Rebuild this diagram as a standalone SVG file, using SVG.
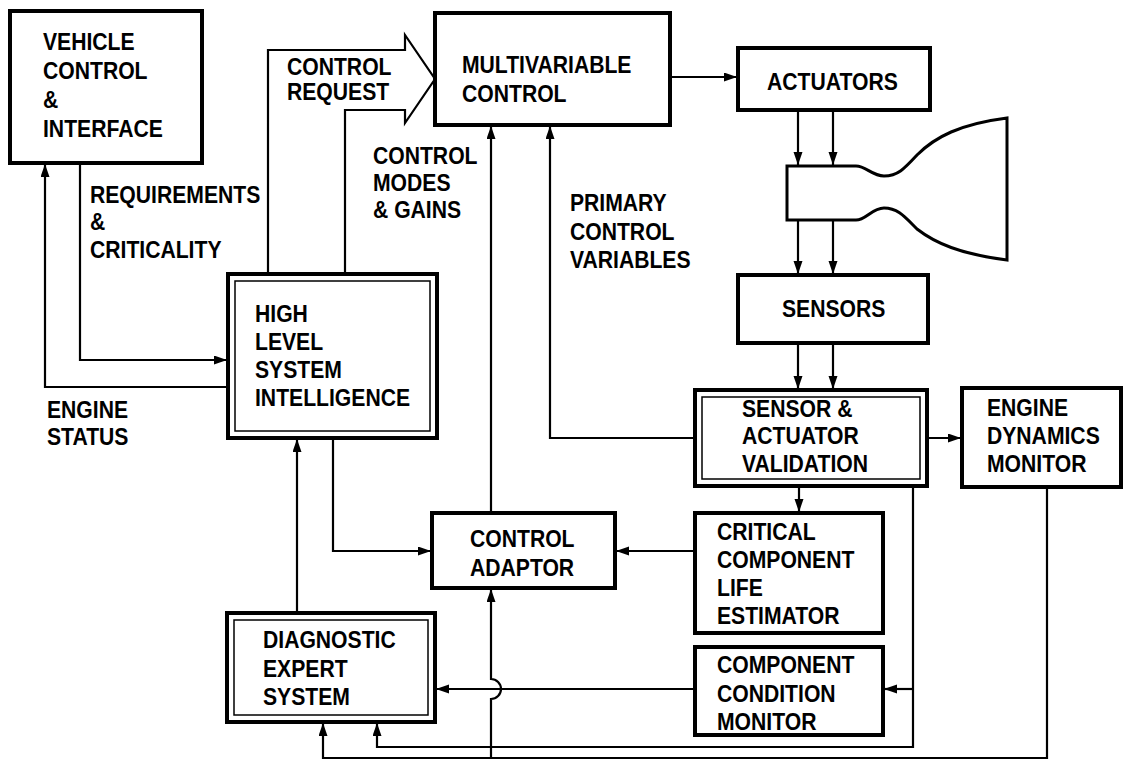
<svg xmlns="http://www.w3.org/2000/svg" width="1124" height="760" viewBox="0 0 1124 760">
<style>
.box{fill:#fff;stroke:#000;stroke-width:4}
.inner{fill:none;stroke:#000;stroke-width:1.5}
.t{font-family:"Liberation Sans",Arial,Helvetica,sans-serif;font-weight:bold;font-size:23.5px;fill:#000;transform:scaleX(0.9);transform-box:fill-box;transform-origin:left center}
.c{fill:none;stroke:#000;stroke-width:2.2}
.a{marker-end:url(#ah)}
</style>
<defs>
<marker id="ah" markerUnits="userSpaceOnUse" markerWidth="14" markerHeight="10" refX="13" refY="4.5" orient="auto">
<path d="M0,0 L13,4.5 L0,9 Z" fill="#000"/>
</marker>
</defs>
<rect width="1124" height="760" fill="#fff"/>

<g id="connectors">
<path class="c" stroke-width="2.5" d="M268,274 V50 H405 V35 L435,79 L405,123 V110 H345 V274"/>
<path class="c a" d="M670,77 H737"/>
<path class="c a" d="M798,110 V165"/>
<path class="c a" d="M833,110 V165"/>
<path class="c a" d="M798,220 V274"/>
<path class="c a" d="M833,220 V274"/>
<path class="c a" d="M798,343 V389"/>
<path class="c a" d="M833,343 V389"/>
<path class="c a" d="M80,163 V360 H227"/>
<path class="c a" d="M228,387 H45 V164"/>
<path class="c a" d="M333,438 V551 H431"/>
<path class="c a" d="M297,613 V439"/>
<path class="c a" d="M491,513 V126"/>
<path class="c a" d="M695,438 H550 V126"/>
<path class="c a" d="M927,438 H961"/>
<path class="c a" d="M799,486 V512"/>
<path class="c a" d="M695,551 H616"/>
<path class="c a" d="M913,486 V747 H377 V723"/>
<path class="c a" d="M913,689 H884"/>
<path class="c a" d="M695,689 H436"/>
<path class="c a" d="M1047,487 V758 H323 V723"/>
<path class="c a" d="M491,758 V699 A10,10 0 0 0 491,679 V589"/>
</g>

<g id="vehicle">
<rect class="box" x="10" y="11" width="192" height="152"/>
<text class="t" x="43" y="50">VEHICLE</text>
<text class="t" x="43" y="79">CONTROL</text>
<text class="t" x="43" y="108">&amp;</text>
<text class="t" x="43" y="137">INTERFACE</text>
</g>

<g id="label-requirements">
<text class="t" x="90" y="203">REQUIREMENTS</text>
<text class="t" x="90" y="230">&amp;</text>
<text class="t" x="90" y="258">CRITICALITY</text>
</g>

<g id="label-control-request">
<text class="t" x="287" y="75">CONTROL</text>
<text class="t" x="287" y="100">REQUEST</text>
</g>

<g id="label-modes">
<text class="t" x="373" y="164">CONTROL</text>
<text class="t" x="373" y="191">MODES</text>
<text class="t" x="373" y="218">&amp; GAINS</text>
</g>

<g id="label-primary">
<text class="t" x="570" y="211">PRIMARY</text>
<text class="t" x="570" y="240">CONTROL</text>
<text class="t" x="570" y="268">VARIABLES</text>
</g>

<g id="label-engine-status">
<text class="t" x="47" y="418">ENGINE</text>
<text class="t" x="47" y="445">STATUS</text>
</g>

<g id="multivariable">
<rect class="box" x="435" y="13" width="235" height="112"/>
<text class="t" x="462" y="73">MULTIVARIABLE</text>
<text class="t" x="462" y="102">CONTROL</text>
</g>

<g id="actuators">
<rect class="box" x="738" y="48" width="192" height="62"/>
<text class="t" x="767" y="90">ACTUATORS</text>
</g>

<g id="engine">
<path fill="#fff" stroke="#000" stroke-width="3" d="M787,166 H856 C866,166 872,176 884,176 C898,176 905,168 917,155 C935,137 960,124 1007,118 V260 C960,254 935,243 917,229 C905,217 898,208 884,208 C872,208 866,220 856,220 H787 Z"/>
</g>

<g id="sensors">
<rect class="box" x="738" y="275" width="190" height="68"/>
<text class="t" x="782" y="317">SENSORS</text>
</g>

<g id="hlsi">
<rect class="box" x="228" y="274" width="209" height="164"/>
<rect class="inner" x="235" y="281" width="195" height="150"/>
<text class="t" x="255" y="322">HIGH</text>
<text class="t" x="255" y="350">LEVEL</text>
<text class="t" x="255" y="378">SYSTEM</text>
<text class="t" x="255" y="406">INTELLIGENCE</text>
</g>

<g id="sa-validation">
<rect class="box" x="695" y="390" width="232" height="96"/>
<rect class="inner" x="702" y="397" width="218" height="82"/>
<text class="t" x="742" y="417">SENSOR &amp;</text>
<text class="t" x="742" y="444">ACTUATOR</text>
<text class="t" x="742" y="472">VALIDATION</text>
</g>

<g id="engine-dynamics">
<rect class="box" x="962" y="388" width="159" height="99"/>
<text class="t" x="987" y="416">ENGINE</text>
<text class="t" x="987" y="444">DYNAMICS</text>
<text class="t" x="987" y="472">MONITOR</text>
</g>

<g id="control-adaptor">
<rect class="box" x="432" y="513" width="183" height="75"/>
<text class="t" x="470" y="547">CONTROL</text>
<text class="t" x="470" y="576">ADAPTOR</text>
</g>

<g id="critical-life">
<rect class="box" x="695" y="513" width="188" height="120"/>
<text class="t" x="717" y="540">CRITICAL</text>
<text class="t" x="717" y="568">COMPONENT</text>
<text class="t" x="717" y="596">LIFE</text>
<text class="t" x="717" y="624">ESTIMATOR</text>
</g>

<g id="condition-monitor">
<rect class="box" x="695" y="647" width="188" height="88"/>
<text class="t" x="717" y="673">COMPONENT</text>
<text class="t" x="717" y="702">CONDITION</text>
<text class="t" x="717" y="730">MONITOR</text>
</g>

<g id="diagnostic">
<rect class="box" x="227" y="613" width="208" height="109"/>
<rect class="inner" x="234" y="620" width="194" height="95"/>
<text class="t" x="263" y="648">DIAGNOSTIC</text>
<text class="t" x="263" y="677">EXPERT</text>
<text class="t" x="263" y="705">SYSTEM</text>
</g>
</svg>
